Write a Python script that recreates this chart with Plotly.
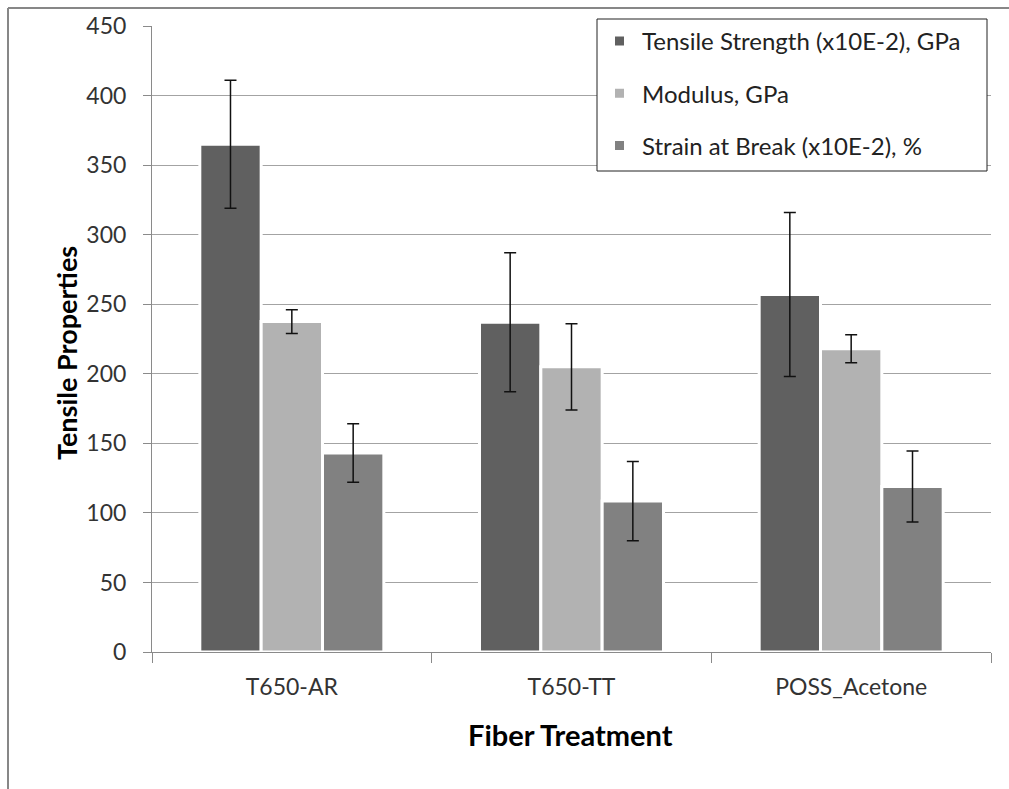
import plotly.graph_objects as go

# Fiber treatments and measured tensile properties
treatments = ["T650-AR", "T650-TT", "POSS_Acetone"]
series_names = [
    "Tensile Strength (x10E-2), GPa",
    "Modulus, GPa",
    "Strain at Break (x10E-2), %",
]
tensile_strength = [365, 237, 257]
tensile_strength_err = [46, 50, 59]
modulus = [237.5, 205, 218]
modulus_err = [8.5, 31, 10]
strain_at_break = [143, 108.5, 119]
strain_at_break_err = [21, 28.5, 25.5]
y_ticks = [0, 50, 100, 150, 200, 250, 300, 350, 400, 450]

values = [tensile_strength, modulus, strain_at_break]
errors = [tensile_strength_err, modulus_err, strain_at_break_err]
colors = ["#606060", "#b2b2b2", "#818181"]

W, H = 1009, 789
L, R, T, B = 152, 18, 26, 137
pw, ph = W - L - R, H - T - B

def px_x(x):
    return (x - L) / pw

def px_y(y):
    return (H - B - y) / ph

FONT = "Lato, 'Open Sans', sans-serif"

fig = go.Figure()
for i, (name, vals, errs, col) in enumerate(zip(series_names, values, errors, colors)):
    fig.add_trace(go.Bar(
        x=treatments, y=vals, name=name,
        legendgroup=f"g{i}",
        marker=dict(color=col, line=dict(color="white", width=3)),
        error_y=dict(type="data", array=errs, visible=True,
                     color="#111111", thickness=1.5, width=6),
    ))

# Outer chart frame (top and left edges)
fig.add_shape(type="line", xref="paper", yref="paper",
              x0=px_x(8), x1=px_x(W + 5), y0=px_y(8), y1=px_y(8),
              line=dict(color="#878787", width=2))
fig.add_shape(type="line", xref="paper", yref="paper",
              x0=px_x(8), x1=px_x(8), y0=px_y(8), y1=px_y(H + 5),
              line=dict(color="#878787", width=2))

# Legend panel: opaque box with a thin dark border
fig.add_shape(type="rect", xref="paper", yref="paper", layer="above",
              x0=px_x(597), x1=px_x(987), y0=px_y(171), y1=px_y(19),
              fillcolor="white", line=dict(color="#222222", width=1))

# Axis titles
fig.add_annotation(text="<b>Tensile Properties</b>", xref="paper", yref="paper",
                   x=px_x(66), y=px_y(353), textangle=-90, showarrow=False,
                   font=dict(family=FONT, size=27, color="#000000"),
                   xanchor="center", yanchor="middle")
fig.add_annotation(text="<b>Fiber Treatment</b>", xref="paper", yref="paper",
                   x=px_x(570), y=px_y(734), showarrow=False,
                   font=dict(family=FONT, size=29, color="#000000"),
                   xanchor="center", yanchor="middle")

fig.update_layout(
    width=W, height=H,
    margin=dict(l=L, r=R, t=T, b=B, autoexpand=False),
    paper_bgcolor="white", plot_bgcolor="white",
    barmode="group", bargap=0.342, bargroupgap=0,
    font=dict(family=FONT, size=23, color="#333333"),
    legend=dict(
        x=px_x(597), y=px_y(19), xanchor="left", yanchor="top",
        bgcolor="rgba(0,0,0,0)", borderwidth=0,
        font=dict(family=FONT, size=24, color="#222222"),
        traceorder="grouped", tracegroupgap=18,
        itemwidth=35,
    ),
    showlegend=True,
)
fig.update_xaxes(
    showline=True, linecolor="#8a8a8a", linewidth=1,
    ticks="outside", ticklen=10, tickcolor="#8a8a8a", tickson="boundaries",
    showgrid=False, automargin=False,
    ticklabelstandoff=14,
    tickfont=dict(family=FONT, size=23, color="#333333"),
)
fig.update_yaxes(
    range=[0, 450], tickvals=y_ticks,
    showline=True, linecolor="#8a8a8a", linewidth=1,
    ticks="outside", ticklen=8, tickcolor="#8a8a8a",
    showgrid=True, gridcolor="#a3a3a3", gridwidth=1,
    zeroline=False, automargin=False,
    ticklabelstandoff=12,
    tickfont=dict(family=FONT, size=23, color="#333333"),
)

fig.write_html("out.html")
